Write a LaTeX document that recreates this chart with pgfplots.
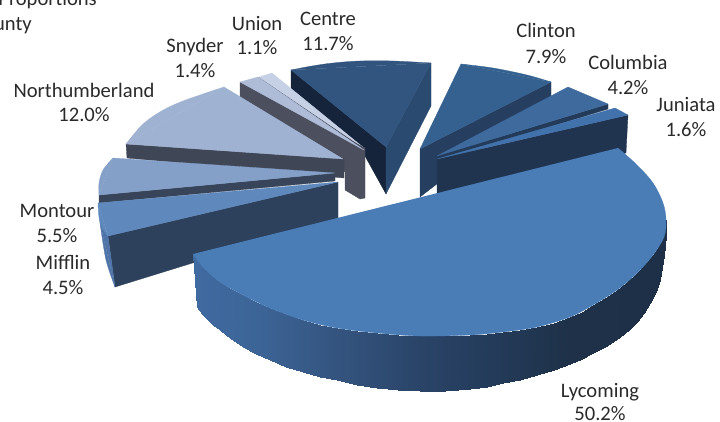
\documentclass[border=0pt]{standalone}
\usepackage{pgfplots}
\pgfplotsset{compat=1.18}
\usepackage{fontspec}
\setmainfont{Carlito}
\definecolor{txt}{HTML}{2A2A2A}
\definecolor{cl1}{HTML}{15243A}
\definecolor{cr1}{HTML}{2A4A70}
\definecolor{ct1}{HTML}{32557F}
\definecolor{cr2}{HTML}{263F60}
\definecolor{ct2}{HTML}{34618F}
\definecolor{cr3}{HTML}{233A58}
\definecolor{ct3}{HTML}{3E6A9E}
\definecolor{cr4}{HTML}{20334F}
\definecolor{ct4}{HTML}{4272AB}
\definecolor{gs1}{HTML}{4B4F5E}
\definecolor{ct5}{HTML}{C6D1E5}
\definecolor{ct6}{HTML}{AEBCD8}
\definecolor{gs2}{HTML}{3F4656}
\definecolor{ct7}{HTML}{9FB2D2}
\definecolor{gs3}{HTML}{37445A}
\definecolor{ct8}{HTML}{84A0C8}
\definecolor{gs4}{HTML}{2D415C}
\definecolor{ms}{HTML}{4F75A8}
\definecolor{ct9}{HTML}{5F88BC}
\definecolor{ct10}{HTML}{4A7CB6}
\newcommand\slice[2]{\addplot[fill=#1,draw=#1,line width=0.3pt,line join=round] coordinates {#2};}
\newcommand\sslice[2]{\addplot[fill=#1,draw=#1,line width=0.3pt,line join=round,smooth,tension=0.55] coordinates {#2};}
\newcommand\tl[3]{\node[anchor=base,inner sep=0pt,text=txt,font=\fontsize{20.6}{24}\selectfont] at (axis cs:#1,#2) {#3};}
\begin{document}
\begin{tikzpicture}[x=1pt,y=1pt]
\path[use as bounding box,clip] (0,0) rectangle (720,421);
\begin{axis}[at={(0,0)},anchor=south west,scale only axis,width=720pt,height=421pt,
  xmin=0,xmax=720,ymin=0,ymax=421,y dir=reverse,hide axis,clip=false,
  colormap={lyc}{rgb255(193)=(64,107,161); rgb255(260)=(60,100,150); rgb255(337)=(52,84,127); rgb255(420)=(42,68,104); rgb255(500)=(35,58,88); rgb255(570)=(30,49,72); rgb255(666)=(29,48,71)}]
% Centre
\slice{cl1}{(291,70)(386,147)(386,194)(360,147)(291,90)(291,70)}
\slice{cr1}{(431,63)(431,106)(386,194)(386,147)(431,63)}
\slice{ct1}{(291,70)(431,63)(386,147)(291,70)}
\sslice{ct1}{(291,70)(312,66)(333,63)(360,61)(393,61)(431,63)}
% Clinton
\slice{cr2}{(551,82)(551,96)(420,197)(420,149)(551,82)}
\slice{ct2}{(461,64)(551,82)(420,149)(461,64)}
\sslice{ct2}{(461,64)(493,68)(527,75)(551,82)}
% Columbia
\slice{cr3}{(608,104)(608,109)(437,162)(437,156)(608,104)}
\slice{ct3}{(568,87)(608,104)(437,156)(568,87)}
% Juniata
\slice{cr4}{(628,115)(626,153)(437,194)(437,159)(628,115)}
\slice{ct4}{(615,108)(628,115)(437,159)(615,108)}
% Union
\slice{gs1}{(259,77)(259,80)(364,153)(364,148)(259,77)}
\slice{ct5}{(259,77)(272,73)(364,148)(259,77)}
% Snyder
\slice{gs1}{(240,82)(240,97)(345,172)(345,190)(360,199)(365,198)(365,148)(240,82)}
\slice{ct6}{(240,82)(258,77)(364,150)(240,82)}
% Northumberland
\slice{gs2}{(126,144)(127,158)(344,178)(344,159)(126,144)}
\slice{ct7}{(343,159)(126,144)(224,87)(343,159)}
\sslice{ct7}{(126,144)(140,127)(152,117)(167,108)(183,101)(200,95)(224,87)}
% Montour
\slice{gs3}{(99,195)(99,203)(335,181)(335,173)(99,195)}
\slice{ct8}{(335,173)(113,158)(99,195)(335,173)}
\sslice{ct8}{(113,158)(103,170)(99,183)(99,195)}
% Mifflin
\slice{gs4}{(338,182)(338,218)(115,287)(108,236)(338,182)}
\slice{ms}{(100,223)(108,236)(115,287)(100,223)}
\sslice{ms}{(115,287)(106,260)(100,223)}
\slice{ct9}{(338,182)(98,203)(108,236)(338,182)}
\sslice{ct9}{(98,203)(100,223)(108,236)}
% Lycoming side
\addplot[surf,shader=interp,mesh/rows=2,point meta=x,point meta min=193,point meta max=666] coordinates {
(193,254)(198,260.5)(203,267)(211,275)(220,282)(231,289)(243,295)(256,302)(270,308)(286,314)(303,320)(320,324.5)(337,328)(357,331)(377,333)(398,335)(420,336)(445,336)(470,335)(487,334)(503,332)(520,330)(537,327)(554,322.5)(570,317)(582,311.5)(593,305)(605,298)(617,290)(627,282)(637,273)(645,264)(653,255)(659,246)(663,237)(666,228)(666,220)

(197,307)(202,313.5)(207,319)(213,325)(220,330)(231,339)(243,347)(256,354)(270,360)(286,366.5)(303,372)(320,376.5)(337,380)(357,384.5)(377,388)(398,390)(420,391)(445,391)(470,389)(487,386.5)(503,383)(520,379.5)(537,375)(554,370)(570,364)(582,359)(593,353)(607,345.5)(620,337)(629,330)(637,322)(644,313)(650,303)(656,292)(660,280)(664,255)(666,235)
};
% Lycoming top
\sslice{ct10}{(618,148)(637,165)(653,183)(663,203)(666,220)(664,237)(653,255)(637,273)(617,290)(593,305)(570,317)(537,327)(503,332)(470,335)(420,336)(377,333)(337,328)(303,320)(270,308)(243,295)(220,282)(203,267)(193,254)}
% Labels
\tl{257}{30}{Union}\tl{257}{54}{1.1\%}
\tl{328}{25}{Centre}\tl{328}{50}{11.7\%}
\tl{195}{52}{Snyder}\tl{195}{77}{1.4\%}
\tl{84}{97}{Northumberland}\tl{84}{121}{12.0\%}
\tl{57}{217}{Montour}\tl{57}{242}{5.5\%}
\tl{63}{269}{Mifflin}\tl{63}{294}{4.5\%}
\tl{546}{37}{Clinton}\tl{546}{63}{7.9\%}
\tl{628}{69}{Columbia}\tl{628}{94}{4.2\%}
\tl{686}{111}{Juniata}\tl{686}{136}{1.6\%}
\tl{600}{397}{Lycoming}\tl{600}{420}{50.2\%}
\node[anchor=base east,inner sep=0pt,text=txt,font=\fontsize{20.6}{24}\selectfont] at (axis cs:97,5) {Proportions};
\node[anchor=base east,inner sep=0pt,text=txt,font=\fontsize{20.6}{24}\selectfont] at (axis cs:32,30) {by County};
\end{axis}
\end{tikzpicture}
\end{document}
